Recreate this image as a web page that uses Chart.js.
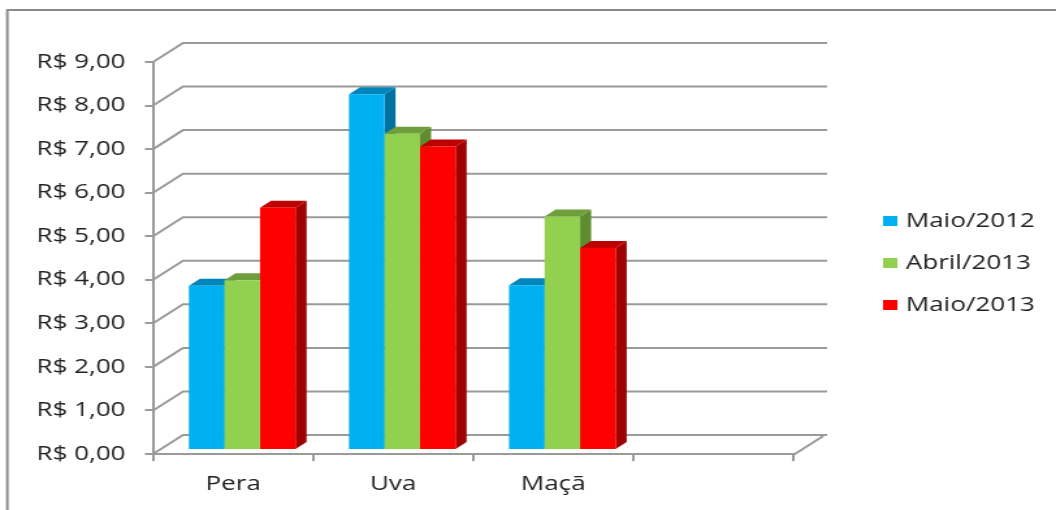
<!DOCTYPE html>
<html><head><meta charset="utf-8">
<script src="https://cdn.jsdelivr.net/npm/chart.js@4/dist/chart.umd.min.js"></script>
<style>html,body{margin:0;padding:0;background:#fff;overflow:hidden}
#wrap{width:812px;height:510px;position:absolute;left:0;top:0;transform:scaleX(1.3005);transform-origin:0 0}</style>
</head><body><div id="wrap"><canvas id="c" width="812" height="510"></canvas></div>
<script>
// ---- data ----
const categories = ['Pera', 'Uva', 'Maçã', ''];
const seriesNames = ['Maio/2012', 'Abril/2013', 'Maio/2013'];
const maio2012 = [3.77, 8.17, 3.78, null];
const abril2013 = [3.90, 7.26, 5.36, null];
const maio2013 = [5.56, 6.97, 4.64, null];
const yMin = 0, yMax = 9, yStep = 1;

// ---- styles (canvas is drawn 812 wide and stretched horizontally like the source) ----
const FRONT = ['#00B0F0', '#92D050', '#FF0000'];
const TOP = ['#0086BA', '#6F9F3C', '#C00000'];
const SIDE = ['#0072A2', '#5E8C31', '#A00000'];
const GRID = '#9a9a9a';
const TXT = '#222222';
const FONT = { family: 'Open Sans', size: 20 };
const BAR_SHIFT = { x: 7, y: -4 };
const DEPTH = { x: 8.5, y: -7 };
const WALL = { x: 23, y: -19, right: 636 };

const framePlugin = {
  id: 'frame',
  beforeDraw(chart) {
    const ctx = chart.ctx;
    ctx.save();
    ctx.strokeStyle = '#8a8a8a';
    ctx.lineWidth = 2;
    ctx.beginPath();
    ctx.moveTo(5.6, 510); ctx.lineTo(5.6, 10); ctx.lineTo(812, 10);
    ctx.stroke();
    ctx.restore();
  }
};

const wallPlugin = {
  id: 'wall',
  beforeDatasetsDraw(chart) {
    const ctx = chart.ctx, ys = chart.scales.y, a = chart.chartArea;
    ctx.save();
    ctx.strokeStyle = GRID;
    ctx.lineWidth = 2;
    ys.ticks.forEach(t => {
      const y = ys.getPixelForValue(t.value);
      ctx.beginPath();
      ctx.moveTo(a.left, y);
      ctx.lineTo(a.left + WALL.x, y + WALL.y);
      ctx.lineTo(WALL.right, y + WALL.y);
      ctx.stroke();
    });
    ctx.beginPath();
    ctx.moveTo(a.right, a.bottom + 1);
    ctx.lineTo(a.right + WALL.x, a.bottom + 1 + WALL.y);
    ctx.stroke();
    ctx.restore();
  }
};

const bar3dPlugin = {
  id: 'bar3d',
  beforeDatasetsDraw(chart) {
    const ctx = chart.ctx;
    ctx.save();
    ctx.translate(BAR_SHIFT.x, BAR_SHIFT.y);
    chart.data.datasets.forEach((ds, i) => {
      const meta = chart.getDatasetMeta(i);
      meta.data.forEach((el, j) => {
        if (ds.data[j] == null || isNaN(el.y)) return;
        const L = el.x - el.width / 2, R = el.x + el.width / 2, T = el.y, B = el.base;
        ctx.fillStyle = SIDE[i];
        ctx.beginPath();
        ctx.moveTo(R, T); ctx.lineTo(R + DEPTH.x, T + DEPTH.y);
        ctx.lineTo(R + DEPTH.x, B + DEPTH.y); ctx.lineTo(R, B);
        ctx.closePath(); ctx.fill();
        ctx.fillStyle = TOP[i];
        ctx.beginPath();
        ctx.moveTo(L, T); ctx.lineTo(R, T);
        ctx.lineTo(R + DEPTH.x, T + DEPTH.y); ctx.lineTo(L + DEPTH.x, T + DEPTH.y);
        ctx.closePath(); ctx.fill();
      });
    });
    // translation kept for the library's own front faces
  },
  afterDatasetsDraw(chart) {
    chart.ctx.restore();
  }
};

const legendPlugin = {
  id: 'legend3d',
  afterDraw(chart) {
    const ctx = chart.ctx;
    ctx.save();
    ctx.font = FONT.size + 'px "' + FONT.family + '"';
    ctx.textBaseline = 'middle';
    ctx.textAlign = 'left';
    chart.data.datasets.forEach((ds, i) => {
      const y = 221 + i * 42;
      ctx.fillStyle = ds.backgroundColor;
      ctx.fillRect(679, y - 5, 11, 10);
      ctx.fillStyle = TXT;
      ctx.fillText(ds.label, 696.5, y);
    });
    ctx.restore();
  }
};

const fmt = v => 'R$ ' + Number(v).toFixed(2).replace('.', ',');

new Chart(document.getElementById('c'), {
  type: 'bar',
  data: {
    labels: categories,
    datasets: [
      { label: seriesNames[0], data: maio2012, backgroundColor: FRONT[0] },
      { label: seriesNames[1], data: abril2013, backgroundColor: FRONT[1] },
      { label: seriesNames[2], data: maio2013, backgroundColor: FRONT[2] }
    ]
  },
  options: {
    responsive: false,
    animation: false,
    devicePixelRatio: 1,
    clip: false,
    datasets: { bar: { categoryPercentage: 0.666, barPercentage: 1.0, borderWidth: 0 } },
    layout: { padding: { top: 62, right: 202, bottom: 0, left: 0 } },
    plugins: { legend: { display: false }, tooltip: { enabled: false }, title: { display: false } },
    scales: {
      x: {
        type: 'category',
        grid: { offset: true, drawOnChartArea: false, drawTicks: true, tickLength: 7, color: GRID, lineWidth: 2 },
        border: { display: true, color: GRID, width: 2 },
        ticks: { font: FONT, color: TXT, padding: 11, maxRotation: 0, autoSkip: false },
        afterFit(s) { s.height = 56; }
      },
      y: {
        min: yMin, max: yMax,
        grid: { drawOnChartArea: false, drawTicks: true, tickLength: 6.2, color: GRID, lineWidth: 2 },
        border: { display: true, color: GRID, width: 2 },
        ticks: { stepSize: yStep, font: FONT, color: TXT, padding: 15, callback: fmt },
        afterFit(s) { s.width = 117.7; }
      }
    }
  },
  plugins: [framePlugin, wallPlugin, bar3dPlugin, legendPlugin]
});
</script>
</body></html>
